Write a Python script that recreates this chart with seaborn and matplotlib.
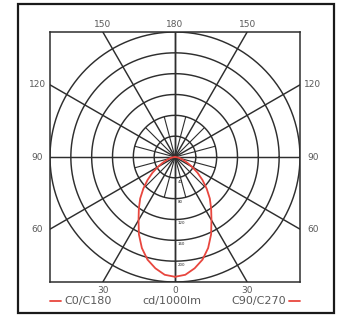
import numpy as np
import pandas as pd
import matplotlib
matplotlib.use('Agg')
import matplotlib.pyplot as plt
import seaborn as sns
from matplotlib.patches import Rectangle

sns.set_style('white')
plt.rcParams['font.family'] = ['DejaVu Sans']

# polar intensity diagram (cd/1000lm), angle measured from nadir
gamma = [0, 5, 10, 15, 20, 25, 30, 35, 40, 45, 50, 55, 60, 65, 70, 75, 80, 85, 90]
c0_c180 = [230, 227, 217, 204, 186, 164, 140, 121, 104, 86, 69, 53, 38, 26, 17, 10, 6, 2, 0]
c90_c270 = [230, 227, 217, 204, 186, 164, 140, 121, 104, 86, 69, 53, 38, 26, 17, 10, 6, 2, 0]

ring_step = 40
ring_values = [40, 80, 120, 160, 200, 240]
spoke_angles = [0, 30, 60, 90, 120, 150, 180]
angle_labels = ['0', '30', '60', '90', '120', '150', '180']

RED = '#e8463e'
GRID = '#2e2e2e'
TXT = '#5a5a5a'

# build curve table (left half = C0/C180, right half = C90/C270)
g = np.radians(gamma)
r0 = np.array(c0_c180) / ring_step
r90 = np.array(c90_c270) / ring_step
df = pd.concat([
    pd.DataFrame({'x': -r0 * np.sin(g), 'y': -r0 * np.cos(g), 'plane': 'C0/C180'}),
    pd.DataFrame({'x': r90 * np.sin(g), 'y': -r90 * np.cos(g), 'plane': 'C90/C270'}),
], ignore_index=True)

W, H = 340, 315
fig = plt.figure(figsize=(W / 100, H / 100), dpi=100)
# outer frame
fig.patches.append(Rectangle((18 / W, 2 / H), 316 / W, 309 / H, transform=fig.transFigure,
                             fill=False, lw=1.6, ec='#1a1a1a'))
ax = fig.add_axes([50 / W, (H - 282) / H, 250 / W, 250 / H])
R = len(ring_values)
ax.set_xlim(-R, R)
ax.set_ylim(-R, R)
ax.set_xticks([])
ax.set_yticks([])
for s in ax.spines.values():
    s.set_color(GRID)
    s.set_linewidth(1.1)

# rings
t = np.linspace(0, 2 * np.pi, 400)
for k in range(1, R + 1):
    ax.plot(k * np.cos(t), k * np.sin(t), color=GRID, lw=1.05, zorder=1)

# spokes out to the square border
for a in spoke_angles:
    ar = np.radians(a)
    for side in (-1, 1):
        dx, dy = side * np.sin(ar), -np.cos(ar)
        L = R / max(abs(dx), abs(dy))
        ax.plot([0, L * dx], [0, L * dy], color=GRID, lw=1.05, zorder=1)
# extra short spokes near the centre
for a in range(15, 180, 30):
    ar = np.radians(a)
    for side in (-1, 1):
        ax.plot([0, 2 * side * np.sin(ar)], [0, -2 * np.cos(ar)], color=GRID, lw=0.8, zorder=1)

# tiny intensity labels on the nadir axis
for k, v in enumerate(ring_values[:-1], start=1):
    ax.text(0.12, -k - 0.18, str(v), fontsize=2.8, color='#222222', ha='left', va='center')

sns.lineplot(data=df, x='x', y='y', hue='plane', estimator=None,
             palette=[RED, RED], sort=False, legend=False, lw=1.3, ax=ax, zorder=3)
ax.set_xlabel('')
ax.set_ylabel('')

# angle labels around the square
for a, lab in zip(spoke_angles, angle_labels):
    ar = np.radians(a)
    for side in (-1, 1):
        dx, dy = side * np.sin(ar), -np.cos(ar)
        L = R / max(abs(dx), abs(dy))
        px, py = L * dx, L * dy
        if abs(dy) >= abs(dx) - 1e-9 and a != 90:
            py += 0.38 if dy > 0 else -0.42
        else:
            px += 0.62 if dx > 0 else -0.62
        ax.text(px, py, lab, fontsize=6.5, color=TXT, ha='center', va='center', clip_on=False)
        if a in (0, 180):
            break

# legend row
ly = -R - 0.9
ax.plot([-6.0, -5.45], [ly, ly], color=RED, lw=1.3, clip_on=False)
ax.text(-5.3, ly, 'C0/C180', fontsize=8, color=TXT, ha='left', va='center')
ax.text(-0.15, ly, 'cd/1000lm', fontsize=8, color=TXT, ha='center', va='center')
ax.plot([5.45, 6.0], [ly, ly], color=RED, lw=1.3, clip_on=False)
ax.text(5.35, ly, 'C90/C270', fontsize=8, color=TXT, ha='right', va='center')

plt.savefig('out.png', dpi=100)
plt.close()
